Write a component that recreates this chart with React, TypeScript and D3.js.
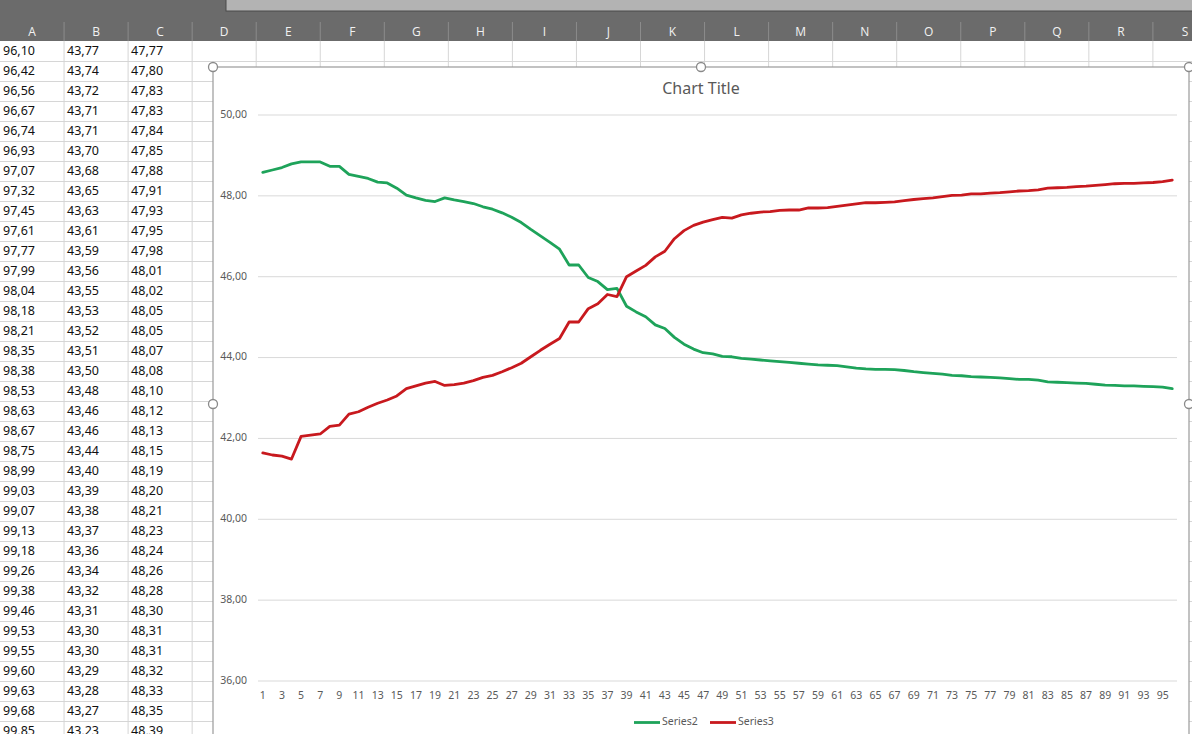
import React from "react";
import * as d3 from "d3";

// ---------- data ----------
const categories: number[] = d3.range(1, 97);

const series2: number[] = [
  48.58, 48.64, 48.70, 48.79, 48.84, 48.84, 48.84, 48.73, 48.73, 48.53,
  48.48, 48.43, 48.34, 48.32, 48.19, 48.02, 47.95, 47.89, 47.86, 47.95,
  47.90, 47.86, 47.81, 47.73, 47.67, 47.58, 47.47, 47.34, 47.17, 47.01,
  46.85, 46.68, 46.29, 46.29, 45.98, 45.88, 45.68, 45.71, 45.27, 45.13,
  45.01, 44.81, 44.72, 44.50, 44.33, 44.21, 44.12, 44.09, 44.03, 44.02,
  43.98, 43.96, 43.94, 43.92, 43.90, 43.88, 43.86, 43.84, 43.82, 43.81,
  43.80,
  43.77, 43.74, 43.72, 43.71, 43.71, 43.70, 43.68, 43.65, 43.63, 43.61,
  43.59, 43.56, 43.55, 43.53, 43.52, 43.51, 43.50, 43.48, 43.46, 43.46,
  43.44, 43.40, 43.39, 43.38, 43.37, 43.36, 43.34, 43.32, 43.31, 43.30,
  43.30, 43.29, 43.28, 43.27, 43.23,
];

const series3: number[] = [
  41.64, 41.59, 41.56, 41.49, 42.05, 42.08, 42.11, 42.30, 42.33, 42.60,
  42.66, 42.77, 42.87, 42.95, 43.05, 43.23, 43.30, 43.37, 43.41, 43.31,
  43.33, 43.37, 43.43, 43.51, 43.56, 43.65, 43.75, 43.86, 44.02, 44.18,
  44.33, 44.47, 44.88, 44.88, 45.21, 45.33, 45.56, 45.51, 46.00, 46.14,
  46.28, 46.49, 46.63, 46.94, 47.14, 47.27, 47.35, 47.41, 47.47, 47.45,
  47.53, 47.57, 47.60, 47.61, 47.64, 47.65, 47.65, 47.70, 47.70, 47.71,
  47.74,
  47.77, 47.80, 47.83, 47.83, 47.84, 47.85, 47.88, 47.91, 47.93, 47.95,
  47.98, 48.01, 48.02, 48.05, 48.05, 48.07, 48.08, 48.10, 48.12, 48.13,
  48.15, 48.19, 48.20, 48.21, 48.23, 48.24, 48.26, 48.28, 48.30, 48.31,
  48.31, 48.32, 48.33, 48.35, 48.39,
];

// spreadsheet columns A, B, C (visible rows)
const colA: string[] = [
  "96,10", "96,42", "96,56", "96,67", "96,74", "96,93", "97,07", "97,32", "97,45", "97,61",
  "97,77", "97,99", "98,04", "98,18", "98,21", "98,35", "98,38", "98,53", "98,63", "98,67",
  "98,75", "98,99", "99,03", "99,07", "99,13", "99,18", "99,26", "99,38", "99,46", "99,53",
  "99,55", "99,60", "99,63", "99,68", "99,85",
];
const colB: string[] = [
  "43,77", "43,74", "43,72", "43,71", "43,71", "43,70", "43,68", "43,65", "43,63", "43,61",
  "43,59", "43,56", "43,55", "43,53", "43,52", "43,51", "43,50", "43,48", "43,46", "43,46",
  "43,44", "43,40", "43,39", "43,38", "43,37", "43,36", "43,34", "43,32", "43,31", "43,30",
  "43,30", "43,29", "43,28", "43,27", "43,23",
];
const colC: string[] = [
  "47,77", "47,80", "47,83", "47,83", "47,84", "47,85", "47,88", "47,91", "47,93", "47,95",
  "47,98", "48,01", "48,02", "48,05", "48,05", "48,07", "48,08", "48,10", "48,12", "48,13",
  "48,15", "48,19", "48,20", "48,21", "48,23", "48,24", "48,26", "48,28", "48,30", "48,31",
  "48,31", "48,32", "48,33", "48,35", "48,39",
];
const columnLetters: string[] = "ABCDEFGHIJKLMNOPQRS".split("");
const yTicks: number[] = [36, 38, 40, 42, 44, 46, 48, 50];
const seriesNames: string[] = ["Series2", "Series3"];

// ---------- layout ----------
const W = 1192;
const H = 734;
const COL_W = 64.05;
const HEADER_TOP = 22;
const HEADER_BOTTOM = 41;
const ROW_H = 20;
const CHART_L = 213;
const CHART_T = 67;
const CHART_R = 1189;
const PLOT_L = 258;
const PLOT_R = 1177;
const PLOT_T = 115;
const PLOT_B = 681;

const GREEN = "#1ea35a";
const RED = "#c8191e";
const TEXT = "#595959";
const FONT = "'Noto Sans', 'Open Sans', sans-serif";

const fmt = (v: number) => d3.format(".2f")(v).replace(".", ",");

export default function App() {
  const x = d3.scalePoint<number>().domain(categories).range([PLOT_L, PLOT_R]).padding(0.5);
  const y = d3.scaleLinear().domain([36, 50]).range([PLOT_B, PLOT_T]);
  const line = d3
    .line<number>()
    .x((_, i) => x(categories[i]) as number)
    .y((d) => y(d));

  const colEdges = d3.range(0, 20).map((i) => i * COL_W);
  const rowLines = d3.range(1, 36).map((k) => HEADER_BOTTOM + k * ROW_H);

  return (
    <div style={{ position: "fixed", left: 0, top: 0, width: W, height: H, overflow: "hidden" }}>
      <svg width={W} height={H} style={{ display: "block", fontFamily: FONT }}>
        {/* sheet background */}
        <rect x={0} y={0} width={W} height={H} fill="#ffffff" />
        {/* top band */}
        <rect x={0} y={0} width={W} height={HEADER_BOTTOM} fill="#6b6b6b" />
        <rect x={226} y={-1} width={W - 226 + 2} height={12} fill="#b3b3b3" stroke="#4a4a4a" strokeWidth={1} />
        {/* column headers */}
        {colEdges.slice(1).map((cx, i) => (
          <line key={"hs" + i} x1={cx} x2={cx} y1={HEADER_TOP} y2={HEADER_BOTTOM} stroke="#8c8c8c" strokeWidth={1} />
        ))}
        {columnLetters.map((c, i) => (
          <text
            key={"hl" + c}
            x={i * COL_W + COL_W / 2}
            y={(HEADER_TOP + HEADER_BOTTOM) / 2 + 1}
            textAnchor="middle"
            dominantBaseline="middle"
            fontSize={12}
            fill="#f2f2f2"
            fontFamily="'Open Sans', 'Noto Sans', sans-serif"
          >
            {c}
          </text>
        ))}
        {/* cell grid */}
        {rowLines.map((ry, i) => (
          <line key={"rl" + i} x1={0} x2={W} y1={ry + 0.5} y2={ry + 0.5} stroke="#d6d6d6" strokeWidth={1} />
        ))}
        {colEdges.slice(1).map((cx, i) => (
          <line key={"cl" + i} x1={cx} x2={cx} y1={HEADER_BOTTOM} y2={H} stroke="#d6d6d6" strokeWidth={1} />
        ))}
        {/* cell values */}
        {[colA, colB, colC].map((col, ci) =>
          col.map((v, ri) => (
            <text
              key={"c" + ci + "-" + ri}
              x={ci * COL_W + 3}
              y={HEADER_BOTTOM + ri * ROW_H + ROW_H / 2 + 1}
              dominantBaseline="middle"
              fontSize={12.5}
              fill="#111"
            >
              {v}
            </text>
          ))
        )}

        {/* chart object */}
        <rect x={CHART_L} y={CHART_T} width={CHART_R - CHART_L} height={H - CHART_T + 10} fill="#ffffff" stroke="#9a9a9a" strokeWidth={1.2} />
        <text x={(CHART_L + CHART_R) / 2} y={89.5} textAnchor="middle" dominantBaseline="middle" fontSize={16} fill={TEXT}>
          Chart Title
        </text>
        {/* gridlines + y labels */}
        {yTicks.map((t) => (
          <g key={"yt" + t}>
            <line x1={PLOT_L} x2={PLOT_R} y1={y(t)} y2={y(t)} stroke="#d9d9d9" strokeWidth={1} />
            <text x={247} y={y(t)} textAnchor="end" dominantBaseline="middle" fontSize={10.5} fill={TEXT}>
              {fmt(t)}
            </text>
          </g>
        ))}
        {/* x labels */}
        {categories
          .filter((c) => c % 2 === 1)
          .map((c) => (
            <text key={"xl" + c} x={x(c) as number} y={696} textAnchor="middle" dominantBaseline="middle" fontSize={10.5} fill={TEXT}>
              {c}
            </text>
          ))}
        {/* series */}
        <path d={line(series2) || ""} fill="none" stroke={GREEN} strokeWidth={2.8} strokeLinejoin="round" strokeLinecap="round" />
        <path d={line(series3) || ""} fill="none" stroke={RED} strokeWidth={2.8} strokeLinejoin="round" strokeLinecap="round" />
        {/* legend */}
        {seriesNames.map((n, i) => {
          const lx = 634 + i * 76;
          return (
            <g key={"lg" + n}>
              <line x1={lx} x2={lx + 26} y1={722.5} y2={722.5} stroke={i === 0 ? GREEN : RED} strokeWidth={2.8} />
              <text x={lx + 28} y={722.5} dominantBaseline="middle" fontSize={10.5} fill={TEXT}>
                {n}
              </text>
            </g>
          );
        })}
        {/* selection handles */}
        {[
          [CHART_L, CHART_T],
          [(CHART_L + CHART_R) / 2, CHART_T],
          [CHART_R, CHART_T],
          [CHART_L, 404],
          [CHART_R, 404],
        ].map(([hx, hy], i) => (
          <circle key={"h" + i} cx={hx} cy={hy} r={4.5} fill="#ffffff" stroke="#8a8a8a" strokeWidth={1.3} />
        ))}
      </svg>
    </div>
  );
}
